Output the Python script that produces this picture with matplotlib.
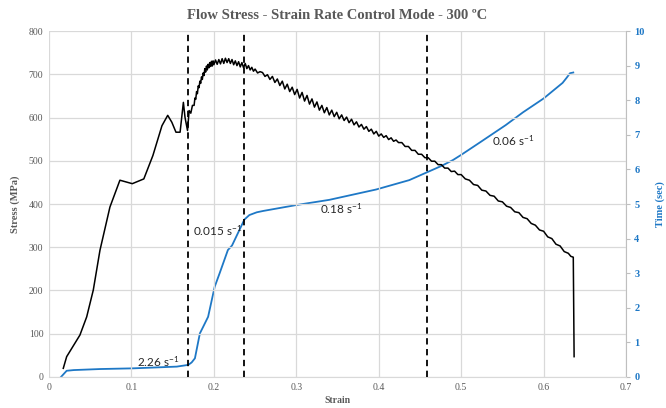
import matplotlib
matplotlib.use('Agg')
import matplotlib.pyplot as plt

# stress (MPa) vs strain
strain_s = [0.0173, 0.0214, 0.0275, 0.0375, 0.0457, 0.0537, 0.0618, 0.0739, 0.086, 0.101,
            0.115, 0.126, 0.137, 0.144, 0.149, 0.154, 0.159, 0.163, 0.165, 0.168,
            0.170, 0.172, 0.174, 0.176, 0.177, 0.178, 0.179, 0.180, 0.181, 0.182,
            0.183, 0.184, 0.185, 0.186, 0.187, 0.188, 0.189, 0.190, 0.191, 0.192,
            0.193, 0.194, 0.195, 0.196, 0.197, 0.198, 0.199, 0.200, 0.202, 0.204,
            0.206, 0.208, 0.210, 0.212, 0.214, 0.216, 0.218, 0.220, 0.222, 0.224,
            0.226, 0.228, 0.230, 0.232, 0.234, 0.236, 0.238, 0.240, 0.242, 0.244,
            0.246, 0.248, 0.250, 0.253, 0.256, 0.259, 0.262, 0.265, 0.268, 0.271,
            0.274, 0.277, 0.280, 0.283, 0.286, 0.289, 0.292, 0.295, 0.298, 0.301,
            0.304, 0.307, 0.310, 0.313, 0.316, 0.319, 0.322, 0.325, 0.328, 0.331,
            0.334, 0.337, 0.340, 0.343, 0.346, 0.349, 0.352, 0.355, 0.358, 0.361,
            0.364, 0.367, 0.370, 0.373, 0.376, 0.379, 0.382, 0.385, 0.388, 0.391,
            0.394, 0.397, 0.400, 0.403, 0.406, 0.409, 0.412, 0.415, 0.418, 0.421,
            0.424, 0.428, 0.432, 0.436, 0.440, 0.444, 0.448, 0.452, 0.456, 0.460,
            0.464, 0.468, 0.472, 0.476, 0.480, 0.484, 0.488, 0.492, 0.496, 0.500,
            0.505, 0.510, 0.515, 0.520, 0.525, 0.530, 0.535, 0.540, 0.545, 0.550,
            0.555, 0.560, 0.565, 0.570, 0.575, 0.580, 0.585, 0.590, 0.595, 0.600,
            0.605, 0.610, 0.615, 0.620, 0.625, 0.630, 0.633, 0.636, 0.637]
stress = [20, 47, 66, 97, 139, 201, 293, 393, 455, 447,
          458, 512, 581, 605, 589, 566, 566, 635, 600, 570,
          616, 610, 628, 628, 645, 642, 660, 655, 673, 669,
          684, 679, 694, 688, 703, 697, 713, 705, 719, 710,
          723, 715, 727, 718, 730, 719, 731, 722, 733, 723,
          734, 724, 736, 725, 737, 727, 736, 725, 734, 722,
          731, 720, 729, 717, 727, 715, 725, 713, 720, 710,
          716, 707, 712, 703, 706, 704, 695, 699, 688, 695,
          681, 689, 674, 684, 666, 677, 660, 670, 653, 665,
          645, 658, 638, 651, 631, 643, 624, 636, 617, 628,
          611, 623, 606, 617, 602, 612, 597, 606, 593, 601,
          588, 596, 583, 590, 578, 584, 573, 579, 568, 573,
          562, 568, 557, 562, 554, 558, 549, 553, 545, 548,
          542, 542, 533, 533, 524, 524, 515, 515, 507, 507,
          499, 499, 491, 491, 483, 483, 475, 476, 468, 468,
          458, 455, 445, 443, 432, 430, 420, 418, 407, 405,
          395, 392, 382, 380, 369, 366, 355, 351, 340, 337,
          324, 320, 307, 303, 290, 286, 279, 277, 47]

# time (sec) vs strain
strain_t = [0.0145, 0.0214, 0.030, 0.062, 0.102, 0.155, 0.169, 0.173, 0.177, 0.183,
            0.187, 0.193, 0.201, 0.207, 0.217, 0.222, 0.227, 0.232, 0.237, 0.243,
            0.252, 0.260, 0.300, 0.340, 0.397, 0.437, 0.457, 0.476, 0.490, 0.500,
            0.524, 0.554, 0.575, 0.600, 0.623, 0.628, 0.632, 0.636]
time_s = [0.0, 0.18, 0.20, 0.23, 0.25, 0.30, 0.35, 0.42, 0.54, 1.26,
          1.45, 1.74, 2.61, 3.0, 3.67, 3.8, 4.05, 4.3, 4.55, 4.68,
          4.76, 4.8, 4.97, 5.12, 5.42, 5.69, 5.9, 6.1, 6.27, 6.42,
          6.8, 7.28, 7.65, 8.05, 8.5, 8.65, 8.78, 8.8]

rate_lines = [0.168, 0.236, 0.458]
rate_labels = ['2.26', '0.015', '0.18', '0.06']
label_x = [0.132, 0.205, 0.354, 0.5635]
label_y = [35, 339, 389, 547]

plt.rcParams['font.family'] = ['Liberation Serif', 'DejaVu Serif']
plt.rcParams['mathtext.default'] = 'regular'

gray = '#595959'
blue = '#1E78C6'

fig, ax = plt.subplots(figsize=(6.66, 4.08), dpi=100)
fig.subplots_adjust(left=0.0736, right=0.94, bottom=0.076, top=0.924)

ax.set_xlim(0, 0.7)
ax.set_ylim(0, 800)
ax.set_xticks([i / 10 for i in range(8)])
ax.set_xticklabels(['0', '0.1', '0.2', '0.3', '0.4', '0.5', '0.6', '0.7'])
ax.set_yticks(range(0, 801, 100))
ax.grid(True, color='#d9d9d9', linewidth=0.9)
ax.set_axisbelow(True)
for side in ['top', 'left', 'right']:
    ax.spines[side].set_visible(False)
ax.spines['bottom'].set_color('#d9d9d9')
ax.tick_params(axis='both', length=0, labelsize=7, colors=gray, pad=4)

ax2 = ax.twinx()
ax2.set_ylim(0, 10)
ax2.set_yticks(range(0, 11))
for side in ['top', 'left', 'bottom']:
    ax2.spines[side].set_visible(False)
ax2.spines['right'].set_color('#bfbfbf')
ax2.tick_params(axis='y', length=3, color='#bfbfbf', labelsize=7.5, labelcolor=blue, pad=3)
for lab in ax2.get_yticklabels():
    lab.set_fontweight('bold')

ax2.plot(strain_t, time_s, color=blue, linewidth=1.3, zorder=2)
ax.plot(strain_s, stress, color='black', linewidth=1.1, zorder=3)

for x in rate_lines:
    ax.axvline(x, color='black', linestyle=(0, (3.5, 2.5)), linewidth=1.3, zorder=4)

for txt, x, y in zip(rate_labels, label_x, label_y):
    ax.text(x, y, txt + r' s$^{-1}$', fontsize=8.5, ha='center', va='center',
            family=['Lato', 'DejaVu Sans'], color='#262626', zorder=5)

ax.set_xlabel('Strain', fontsize=7, fontweight='bold', color=gray, labelpad=3)
ax.set_ylabel('Stress (MPa)', fontsize=7.5, fontweight='bold', color=gray, labelpad=6)
ax2.set_ylabel('Time (sec)', fontsize=7.5, fontweight='bold', color=blue, labelpad=8)
ax.set_title('Flow Stress - Strain Rate Control Mode - 300 \u00baC', fontsize=10.5,
             fontweight='bold', color=gray, pad=9)

ax.set_zorder(ax2.get_zorder() + 1)
ax.patch.set_visible(False)

fig.savefig('out.png', dpi=100)
